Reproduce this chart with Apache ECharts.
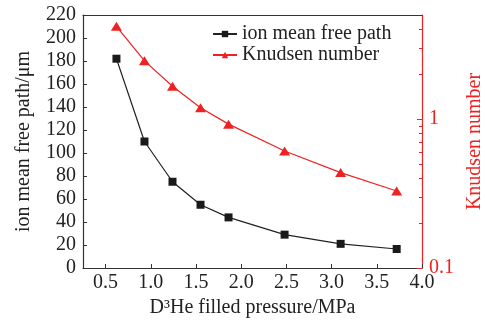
<!DOCTYPE html>
<html>
<head>
<meta charset="utf-8">
<script src="https://cdn.jsdelivr.net/npm/echarts@6/dist/echarts.min.js"></script>
<style>
  html, body { margin: 0; padding: 0; background: #fff; }
  #chart { width: 485px; height: 320px; }
</style>
</head>
<body>
<div id="chart"></div>
<script>
// values
const pressure = [0.62, 0.93, 1.24, 1.55, 1.86, 2.48, 3.10, 3.72]
const meanFreePath = [182, 110, 75, 55, 44, 29, 21, 16.5]
const knudsen = [4.2, 2.46, 1.66, 1.19, 0.925, 0.61, 0.437, 0.329]

const xTicks = [0.5, 1.0, 1.5, 2.0, 2.5, 3.0, 3.5, 4.0]
const rightMajorTicks = [0.1, 1]
const rightMinorTicks = [0.2, 0.3, 0.4, 0.5, 0.6, 0.7, 0.8, 0.9, 2, 3, 4]

const RED = "#ee2222"
const FONT = "Liberation Serif"

const chart = echarts.init(document.getElementById("chart"))

const baseText = { fontFamily: FONT, fontSize: 20, color: "#222" }

const option = {
  animation: false,
  grid: { left: 83, right: 63, top: 15, bottom: 52, containLabel: false, outerBoundsMode: "none" },
  legend: {
    orient: "vertical",
    left: 207,
    top: 19,
    itemWidth: 24,
    itemHeight: 8,
    itemGap: 1,
    textStyle: { ...baseText, lineHeight: 18 },
    data: ["ion mean free path", "Knudsen number"],
  },
  xAxis: [
    {
      type: "value",
      min: 0.25,
      max: 4.0,
      name: "D³He filled pressure/MPa",
      nameLocation: "middle",
      nameGap: 28,
      nameTextStyle: baseText,
      axisLine: { lineStyle: { color: "#333", width: 1.2 } },
      axisTick: { inside: true, length: 4, customValues: xTicks, lineStyle: { color: "#333" } },
      axisLabel: {
        ...baseText,
        margin: 5,
        customValues: xTicks,
        formatter: (v) => v.toFixed(1),
      },
      splitLine: { show: false },
    },
    {
      type: "value",
      position: "top",
      min: 0.25,
      max: 4.0,
      axisLine: { show: true, lineStyle: { color: "#333", width: 1.2 } },
      axisTick: { show: false },
      axisLabel: { show: false },
      splitLine: { show: false },
    },
  ],
  yAxis: [
    {
      type: "value",
      min: 0,
      max: 220,
      interval: 20,
      name: "ion mean free path/μm",
      nameLocation: "middle",
      nameGap: 49,
      nameTextStyle: baseText,
      axisLine: { show: true, lineStyle: { color: "#333", width: 1.2 } },
      axisTick: { inside: true, length: 4, lineStyle: { color: "#333" } },
      axisLabel: { ...baseText, margin: 7 },
      splitLine: { show: false },
    },
    {
      type: "log",
      position: "right",
      min: 0.1,
      max: 5,
      name: "Knudsen number",
      nameLocation: "middle",
      nameGap: 38,
      nameTextStyle: { ...baseText, color: RED },
      axisLine: { show: true, lineStyle: { color: RED, width: 1.2 } },
      axisTick: { inside: true, length: 5, customValues: rightMajorTicks, lineStyle: { color: RED } },
      axisLabel: {
        ...baseText,
        color: RED,
        margin: 7,
        customValues: rightMajorTicks,
        formatter: (v) => String(v),
      },
      splitLine: { show: false },
    },
    {
      type: "log",
      position: "right",
      min: 0.1,
      max: 5,
      axisLine: { show: false },
      axisTick: { inside: true, length: 3, customValues: rightMinorTicks, lineStyle: { color: RED } },
      axisLabel: { show: false },
      splitLine: { show: false },
    },
  ],
  series: [
    {
      name: "ion mean free path",
      type: "line",
      xAxisIndex: 0,
      yAxisIndex: 0,
      data: pressure.map((p, i) => [p, meanFreePath[i]]),
      symbol: "rect",
      symbolSize: 8,
      lineStyle: { color: "#222", width: 1.2 },
      itemStyle: { color: "#1a1a1a" },
    },
    {
      name: "Knudsen number",
      type: "line",
      xAxisIndex: 0,
      yAxisIndex: 1,
      data: pressure.map((p, i) => [p, knudsen[i]]),
      symbol: "triangle",
      symbolSize: [11, 9],
      lineStyle: { color: RED, width: 1.2 },
      itemStyle: { color: RED },
    },
  ],
}

chart.setOption(option)
</script>
</body>
</html>
